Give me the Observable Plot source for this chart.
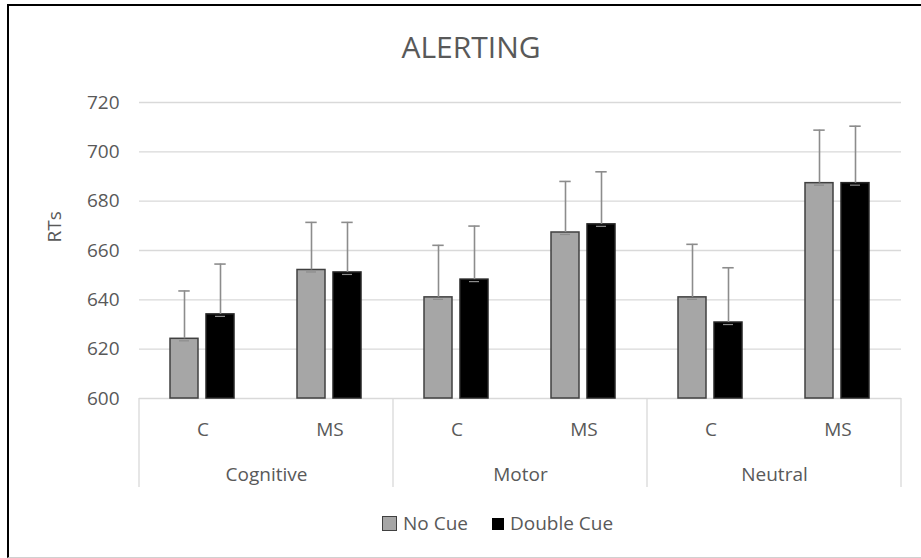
<!DOCTYPE html>
<html>
<head>
<meta charset="utf-8">
<script src="https://cdn.jsdelivr.net/npm/d3@7"></script>
<script src="https://cdn.jsdelivr.net/npm/@observablehq/plot@0.6"></script>
<style>
  html, body { margin: 0; padding: 0; background: #fff; overflow: hidden; }
  #wrap { position: relative; width: 921px; height: 558px; font-family: "Open Sans", sans-serif; color: #595959; }
  #frame { position: absolute; left: 7px; top: 4px; width: 930px; height: 551px;
           border-left: 2.5px solid #000; border-top: 2.5px solid #000; border-bottom: 1px solid #d0d0d0; pointer-events: none; }
  #title { position: absolute; left: 321px; width: 300px; top: 32px; text-align: center; font-size: 30px; line-height: 30px; }
  #legend { position: absolute; left: 382px; top: 514px; display: flex; align-items: center; font-size: 19px; line-height: 19px; }
  .item { display: flex; align-items: center; margin-right: 24px; }
  .sw { display: inline-block; box-sizing: border-box; margin-right: 6px; }
  #chart { position: absolute; left: 0; top: 0; }
</style>
</head>
<body>
<div id="wrap">
  <div id="chart"></div>
  <div id="title">ALERTING</div>
  <div id="legend"></div>
  <div id="frame"></div>
</div>
<script>
const categories = ["Cognitive", "Motor", "Neutral"];
const conditions = ["C", "MS"];
const series = ["No Cue", "Double Cue"];
const noCue = [624.2, 652.1, 641.0, 667.3, 641.0, 687.3];
const doubleCue = [634.1, 651.1, 648.2, 670.6, 630.8, 687.3];
const noCueErr = [19.4, 19.3, 21.1, 20.7, 21.5, 21.5];
const doubleCueErr = [20.4, 20.3, 21.7, 21.3, 22.2, 23.1];
const yTicks = [600, 620, 640, 660, 680, 700, 720];
const yDomain = [600, 720];
const yLabel = "RTs";

const fills = {"No Cue": "#a6a6a6", "Double Cue": "#000000"};
const strokes = {"No Cue": "#404040", "Double Cue": "#262626"};

const groups = [];
categories.forEach(c => conditions.forEach(s => groups.push({cat: c, sub: s, key: c + "|" + s})));
const rows = [];
groups.forEach((g, i) => {
  rows.push({...g, series: "No Cue", value: noCue[i], err: noCueErr[i]});
  rows.push({...g, series: "Double Cue", value: doubleCue[i], err: doubleCueErr[i]});
});
const catRows = categories.map(c => ({cat: c, key: c + "|" + conditions[0]}));
const firstKey = groups[0].key;

const plot = Plot.plot({
  width: 921,
  height: 558,
  marginLeft: 137,
  marginRight: 18,
  marginTop: 102,
  marginBottom: 160,
  style: {fontFamily: "Open Sans, sans-serif", fontSize: "19px", color: "#595959", background: "transparent"},
  fx: {domain: groups.map(g => g.key), padding: 0, axis: null},
  x: {domain: series, paddingInner: 0.218, paddingOuter: 0.849, axis: null},
  y: {domain: yDomain},
  marks: [
    Plot.gridY(yTicks, {stroke: "#d9d9d9", strokeOpacity: 1, strokeWidth: 1.3}),
    Plot.axisY(yTicks, {tickSize: 0, tickPadding: 20, label: null, fill: "#595959", fontSize: 19}),
    Plot.text([{key: firstKey, t: yLabel}], {fx: "key", text: "t", frameAnchor: "left", rotate: -90, dx: -85, dy: -8, fill: "#595959", fontSize: 19}),
    Plot.barY(rows, {fx: "key", x: "series", y1: () => yDomain[0], y2: "value",
      fill: d => fills[d.series], stroke: d => strokes[d.series], strokeWidth: 1.5}),
    Plot.ruleX(rows, {fx: "key", x: "series", y1: "value", y2: d => d.value + d.err, stroke: "#8c8c8c", strokeWidth: 1.6}),
    Plot.tickY(rows, {fx: "key", x: "series", y: d => d.value + d.err, stroke: "#8c8c8c", strokeWidth: 1.6, insetLeft: 8.3, insetRight: 8.3}),
    Plot.tickY(rows, {fx: "key", x: "series", y: "value", dy: 2, stroke: "#8c8c8c", strokeWidth: 1.2, insetLeft: 9, insetRight: 9}),
    Plot.text(groups, {fx: "key", text: "sub", frameAnchor: "bottom", dy: 37, fill: "#595959", fontSize: 19}),
    Plot.text(catRows, {fx: "key", text: "cat", frameAnchor: "bottom-right", textAnchor: "middle", dy: 82, fill: "#595959", fontSize: 19})
  ]
});
document.getElementById("chart").appendChild(plot);

// category separator lines below the plot, positioned through Plot's own scales
const fxS = plot.scale("fx");
const yS = plot.scale("y");
const bw = fxS.bandwidth;
const sepX = categories.map(c => fxS.apply(c + "|" + conditions[0]));
sepX.push(fxS.apply(groups[groups.length - 1].key) + bw);
const yTop = yS.apply(yDomain[0]);
d3.select(plot).append("g")
  .selectAll("line").data(sepX).join("line")
  .attr("x1", d => d).attr("x2", d => d)
  .attr("y1", yTop).attr("y2", yTop + 89)
  .attr("stroke", "#d9d9d9").attr("stroke-width", 1.3);

// legend
const legend = d3.select("#legend");
series.forEach(s => {
  const it = legend.append("div").attr("class", "item");
  const size = s === "No Cue" ? 15 : 12;
  it.append("span").attr("class", "sw")
    .style("width", size + "px").style("height", size + "px")
    .style("background", fills[s])
    .style("border", s === "No Cue" ? "1.5px solid #404040" : "none");
  it.append("span").text(s);
});
</script>
</body>
</html>
